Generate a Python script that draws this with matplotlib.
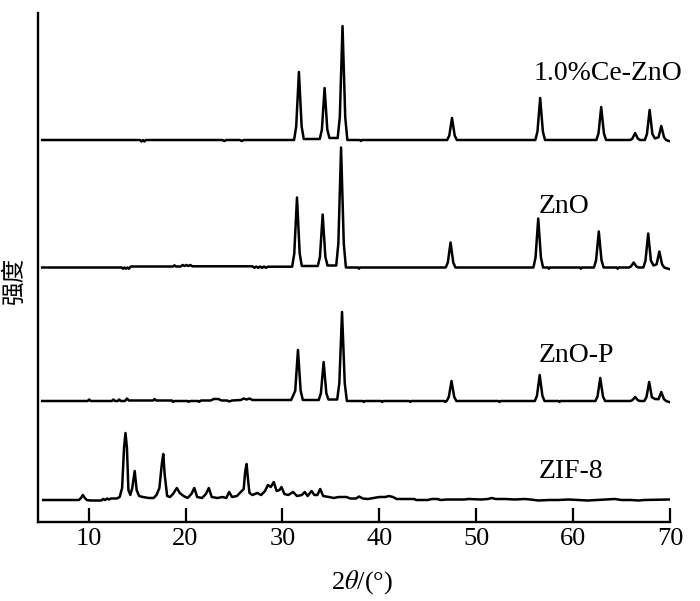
import numpy as np
import matplotlib.pyplot as plt

plt.rcParams['font.family'] = ['Liberation Serif', 'DejaVu Sans']
plt.rcParams['mathtext.fontset'] = 'stix'

# XRD traces: (2theta, intensity above own baseline)
ce_zno = [(5.2, 0), (15.3, 0), (15.45, -1.5), (15.6, 0), (15.75, -1.5), (15.9, 0),
          (23.8, 0), (24.0, -1), (24.2, 0), (25.6, 0), (25.8, -1), (26.0, 0),
          (31.2, 0), (31.42, 13.6), (31.7, 68), (31.98, 13.6), (32.2, 1),
          (33.85, 1), (34.07, 10.4), (34.35, 52), (34.63, 10.4), (34.85, 2),
          (35.7, 2), (35.92, 22.8), (36.2, 114), (36.48, 22.8), (36.7, 0),
          (38.0, 0), (38.1, -1), (38.2, 0),
          (47.0, 0), (47.22, 4.4), (47.5, 22), (47.78, 4.4), (48.0, 0),
          (56.1, 0), (56.32, 8.4), (56.6, 42), (56.88, 8.4), (57.1, 0),
          (62.4, 0), (62.62, 6.6), (62.9, 33), (63.18, 6.6), (63.4, 0),
          (65.9, 0), (66.12, 1.4), (66.4, 7), (66.68, 1.4), (66.9, 0),
          (67.4, 0), (67.62, 6), (67.9, 30), (68.18, 6), (68.45, 1.5),
          (68.82, 2.8), (69.1, 14), (69.38, 2.8), (69.6, 0), (69.9, -1)]

zno = [(5.2, 0), (13.4, 0), (13.55, -1.2), (13.7, 0), (13.85, -1.2), (14.0, 0),
       (14.15, -1.2), (14.35, 1), (18.7, 1), (18.85, 2.2), (19.0, 1), (19.5, 1),
       (19.7, 2.5), (19.9, 1.5), (20.1, 2.5), (20.3, 1.5), (20.5, 2.5), (20.7, 1.2),
       (26.9, 1.2), (27.1, -0.3), (27.3, 1), (27.5, -0.3), (27.7, 1), (27.9, -0.3),
       (28.1, 1), (28.3, -0.3), (28.5, 0.8),
       (31.0, 0.8), (31.22, 14), (31.5, 70), (31.78, 14), (32.0, 1.5),
       (33.65, 1.5), (33.87, 10.6), (34.15, 53), (34.43, 10.6), (34.65, 2),
       (35.55, 2), (35.77, 24), (36.05, 120), (36.33, 24), (36.55, 0),
       (37.8, 0), (37.9, -1.2), (38.0, 0),
       (46.85, 0), (47.07, 5), (47.35, 25), (47.63, 5), (47.85, 0),
       (55.9, 0), (56.12, 9.8), (56.4, 49), (56.68, 9.8), (56.9, 0),
       (57.4, 0), (57.5, -1.2), (57.6, 0), (60.7, 0), (60.8, -1.2), (60.9, 0),
       (62.15, 0), (62.37, 7.2), (62.65, 36), (62.93, 7.2), (63.15, 0),
       (64.5, 0), (64.6, -1.2), (64.7, 0),
       (65.75, 0), (65.97, 1), (66.25, 5), (66.53, 1), (66.75, 0),
       (67.25, 0), (67.47, 6.8), (67.75, 34), (68.03, 6.8), (68.3, 2),
       (68.62, 3.2), (68.9, 16), (69.18, 3.2), (69.4, 0), (69.9, -1.5)]

zno_p = [(5.2, 0), (9.9, 0), (10.05, 1.5), (10.2, 0), (12.4, 0), (12.55, 1.5), (12.7, 0),
         (13.0, 0), (13.15, 1.5), (13.3, 0), (13.75, 0), (13.95, 2.5), (14.15, 0.5),
         (16.65, 0.5), (16.8, 2), (16.95, 0.5), (18.6, 0.5), (18.7, -0.8), (18.9, 0),
         (20.2, 0), (20.3, -0.8), (20.5, 0), (21.3, 0), (21.4, -0.8), (21.6, 0.5),
         (22.6, 0.5), (22.9, 2), (23.4, 2), (23.7, 0.5), (24.3, 0.5), (24.5, -0.5),
         (24.8, 0.5), (25.7, 1), (26.0, 2.5), (26.3, 1.5), (26.6, 2.5), (26.9, 1),
         (30.9, 1), (31.32, 10.2), (31.6, 51), (31.88, 10.2), (32.1, 1),
         (33.75, 1), (33.97, 7.8), (34.25, 39), (34.53, 7.8), (34.75, 1.5),
         (35.65, 1.5), (35.87, 17.8), (36.15, 89), (36.43, 17.8), (36.65, 0),
         (38.3, 0), (38.4, -1), (38.5, 0), (40.2, 0), (40.3, -1), (40.4, 0),
         (43.1, 0), (43.2, -1), (43.3, 0), (46.7, 0), (46.8, -1),
         (46.95, 0), (47.17, 4), (47.45, 20), (47.73, 4), (47.95, 0),
         (52.3, 0), (52.4, -1), (52.5, 0),
         (56.05, 0), (56.27, 5.2), (56.55, 26), (56.83, 5.2), (57.05, 0),
         (58.5, 0), (58.6, -1), (58.7, 0),
         (62.3, 0), (62.52, 4.6), (62.8, 23), (63.08, 4.6), (63.3, 0),
         (65.9, 0), (66.12, 0.8), (66.4, 4), (66.68, 0.8), (66.9, 0),
         (67.35, 0), (67.57, 3.8), (67.85, 19), (68.13, 3.8), (68.45, 2),
         (68.82, 1.8), (69.1, 9), (69.38, 1.8), (69.6, 0), (69.9, -1)]

zif8 = [(5.3, 0), (9.0, 0), (9.2, 2), (9.4, 5), (9.6, 2), (9.8, 0), (10.2, -0.5),
        (11.3, -0.5), (11.5, 1), (11.7, 0), (11.9, 1.5), (12.1, 0.5), (12.3, 1.5),
        (12.9, 1.5), (13.2, 3), (13.45, 12), (13.65, 52), (13.8, 67), (13.95, 52),
        (14.1, 10), (14.3, 5), (14.5, 12), (14.75, 29), (14.95, 10), (15.2, 4),
        (15.6, 3), (16.2, 2), (16.7, 2), (17.0, 5), (17.3, 12), (17.55, 36),
        (17.7, 46), (17.85, 25), (18.1, 4), (18.4, 3), (18.7, 6), (19.1, 12),
        (19.4, 7), (19.8, 4), (20.2, 2), (20.6, 6), (20.9, 12), (21.2, 3),
        (21.7, 2), (22.1, 6), (22.4, 12), (22.7, 3), (23.3, 2), (23.8, 3),
        (24.2, 2), (24.5, 8), (24.8, 3), (25.3, 4), (25.7, 8), (26.0, 11),
        (26.15, 28), (26.3, 36), (26.45, 20), (26.6, 7), (26.9, 5), (27.4, 7),
        (27.8, 5), (28.2, 9), (28.5, 15), (28.8, 13), (29.1, 18), (29.4, 9),
        (29.7, 10), (29.9, 13), (30.2, 6), (30.6, 5), (31.1, 8), (31.5, 4),
        (32.0, 5), (32.3, 8), (32.6, 4), (33.0, 9), (33.3, 5), (33.6, 5),
        (33.9, 11), (34.2, 4), (34.8, 3), (35.3, 2), (35.8, 3), (36.6, 3),
        (37.0, 1.5), (37.6, 1.5), (37.9, 3.5), (38.3, 1.5), (38.8, 1), (39.4, 2),
        (40.0, 3), (40.6, 3), (41.0, 4), (41.4, 3), (41.8, 1), (42.5, 1),
        (43.6, 1), (43.8, 0), (45.0, 0), (45.4, 1), (46.0, 1), (46.3, 0),
        (47.0, 0.5), (48.8, 0.5), (49.2, 1), (50.5, 0.5), (51.2, 1), (51.6, 2),
        (52.0, 1), (53.0, 1), (54.0, 0.5), (55.0, 1), (55.6, 0.5), (56.4, -0.5),
        (57.5, 0), (58.5, 0), (59.5, 0.5), (60.5, 0), (61.5, -0.5), (62.5, 0),
        (63.5, 0.5), (64.3, 1), (65.0, 0), (66.0, 0), (66.8, -0.5), (67.3, 0),
        (69.9, 0.5)]

labels = ['1.0%Ce-ZnO', 'ZnO', 'ZnO-P', 'ZIF-8']
traces = [ce_zno, zno, zno_p, zif8]
offsets = [382, 254.5, 121, 22]
label_pos = [(55.9, 449), (56.4, 316), (56.4, 167), (56.4, 50)]

fig = plt.figure(figsize=(7, 6.01), dpi=100)
ax = fig.add_axes([38/700, 79/601, 632/700, 509/601])

for tr, off, lab, (lx, ly) in zip(traces, offsets, labels, label_pos):
    xy = np.array(tr, dtype=float)
    ax.plot(xy[:, 0], xy[:, 1] + off, color='black', lw=1.8)
    ax.text(lx, ly, lab, fontsize=20, ha='left', va='center')

ax.set_xlim(4.77, 70)
ax.set_ylim(0, 509)
ax.set_xticks(range(10, 71, 10))
ax.set_yticks([])
ax.tick_params(axis='x', direction='in', length=10, width=1.6, labelsize=19, pad=4)
for s in ['top', 'right']:
    ax.spines[s].set_visible(False)
for s in ['left', 'bottom']:
    ax.spines[s].set_linewidth(1.7)

fig.text(362/700, 1 - 582/601, r'2$\theta$/(°)', fontsize=19, ha='center', va='center')
fig.text(14/700, 1 - 280/601, '强度', rotation=90, fontsize=17,
         family=['Noto Sans CJK SC', 'DejaVu Sans'], ha='center', va='center')

fig.savefig('out.png', dpi=100)
